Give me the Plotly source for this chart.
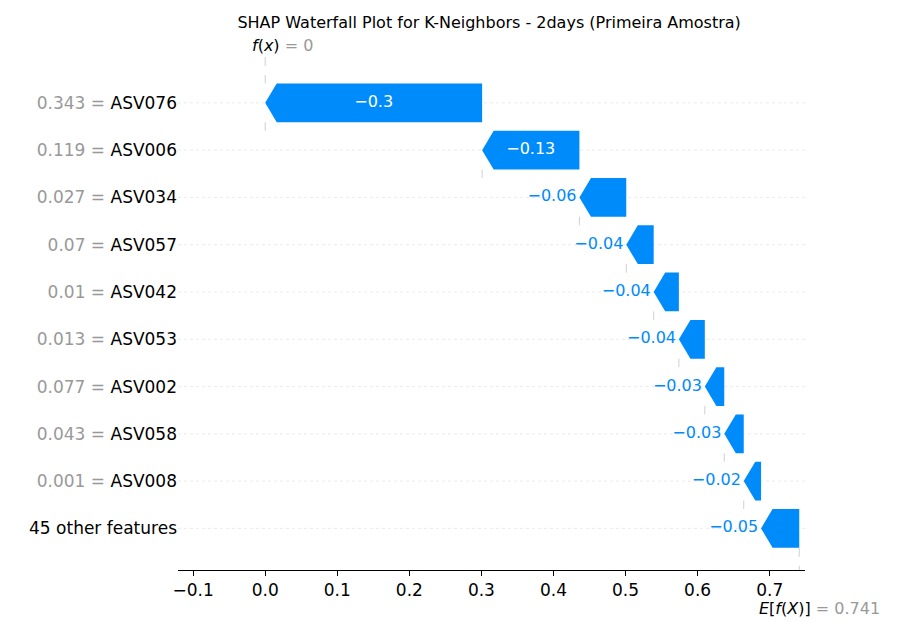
import plotly.graph_objects as go

features = ["ASV076", "ASV006", "ASV034", "ASV057", "ASV042",
            "ASV053", "ASV002", "ASV058", "ASV008", "45 other features"]
feature_values = ["0.343", "0.119", "0.027", "0.07", "0.01",
                  "0.013", "0.077", "0.043", "0.001", None]
shap_values = [-0.301, -0.135, -0.065, -0.038, -0.035,
               -0.036, -0.027, -0.027, -0.024, -0.053]
labels = ["\u22120.3", "\u22120.13", "\u22120.06", "\u22120.04", "\u22120.04",
          "\u22120.04", "\u22120.03", "\u22120.03", "\u22120.02", "\u22120.05"]
base_value = 0.741
fx = 0

blue = "#008bfb"
n = len(features)
h = 0.41
head_len = 0.016

fig = go.Figure()

# bars are stacked from the bottom (base value) upwards
ends = {}
cur = base_value
for i in range(n - 1, -1, -1):
    start = cur
    end = cur + shap_values[i]
    ends[i] = (start, end)
    cur = end

for i in range(n):
    s, e = ends[i]
    hl = min(head_len, abs(s - e))
    xs = [s, s, e + hl, e, e + hl, s]
    ys = [i - h, i + h, i + h, i, i - h, i - h]
    fig.add_trace(go.Scatter(x=xs, y=ys, fill="toself", fillcolor=blue,
                             line=dict(width=0), mode="lines",
                             hoverinfo="skip", showlegend=False))
    length = abs(s - e)
    if length > 0.1:
        fig.add_trace(go.Scatter(x=[(s + e) / 2], y=[i], mode="text",
                                 text=[labels[i]], textposition="middle center",
                                 textfont=dict(color="white", size=16),
                                 hoverinfo="skip", showlegend=False))
    else:
        fig.add_trace(go.Scatter(x=[e - 0.004], y=[i], mode="text",
                                 text=[labels[i]], textposition="middle left",
                                 textfont=dict(color=blue, size=16),
                                 hoverinfo="skip", showlegend=False))
    # connector to next row
    if i < n - 1:
        fig.add_shape(type="line", x0=e, x1=e, y0=i + h, y1=i + 1 - h,
                      line=dict(color="#bbbbbb", width=0.7), layer="below")

# reference lines for f(x) and E[f(X)]
fig.add_shape(type="line", x0=fx, x1=fx, y0=-0.97, y1=-h,
              line=dict(color="#bbbbbb", width=0.7, dash="dash"), layer="below")
fig.add_shape(type="line", x0=base_value, x1=base_value, y0=n - 1 + h, y1=n - 0.12,
              line=dict(color="#bbbbbb", width=0.7, dash="dash"), layer="below")

for i in range(n):
    fig.add_shape(type="line", xref="paper", x0=0, x1=1, y0=i, y1=i,
                  line=dict(color="#e6e6e6", width=0.8, dash="dot"), layer="below")

ticktext = []
for f, v in zip(features, feature_values):
    if v is None:
        ticktext.append(f)
    else:
        ticktext.append(f'<span style="color:#999999">{v} = </span>{f}')

fig.add_annotation(x=fx, y=1, xref="x", yref="paper", yanchor="bottom",
                   text='<i>f</i>(<i>x</i>)<span style="color:#999999"> = 0</span>',
                   showarrow=False, font=dict(size=16, color="black"), xshift=17)
fig.add_annotation(x=base_value, y=0, xref="x", yref="paper", yanchor="top",
                   text='<i>E</i>[<i>f</i>(<i>X</i>)]<span style="color:#999999"> = 0.741</span>',
                   showarrow=False, font=dict(size=16, color="black"), yshift=-27,
                   xshift=20)

fig.update_layout(
    width=891, height=614,
    margin=dict(l=170, r=94, t=49, b=52),
    plot_bgcolor="white", paper_bgcolor="white",
    font=dict(family="DejaVu Sans", size=17, color="black"),
    title=dict(text="SHAP Waterfall Plot for K-Neighbors - 2days (Primeira Amostra)",
               x=0.54, xanchor="center", y=0.985, yanchor="top",
               font=dict(size=16)),
    xaxis=dict(range=[-0.121, 0.749], tickvals=[-0.1, 0, 0.1, 0.2, 0.3, 0.4, 0.5, 0.6, 0.7],
               ticktext=["\u22120.1", "0.0", "0.1", "0.2", "0.3", "0.4", "0.5", "0.6", "0.7"],
               showgrid=False, zeroline=False, showline=True, linecolor="black",
               ticks="outside", ticklen=5, tickcolor="black"),
    yaxis=dict(range=[n - 0.12, -0.97], tickvals=list(range(n)), ticktext=ticktext,
               showgrid=False, zeroline=False, showline=False, ticks=""),
)

fig.write_html("out.html")
